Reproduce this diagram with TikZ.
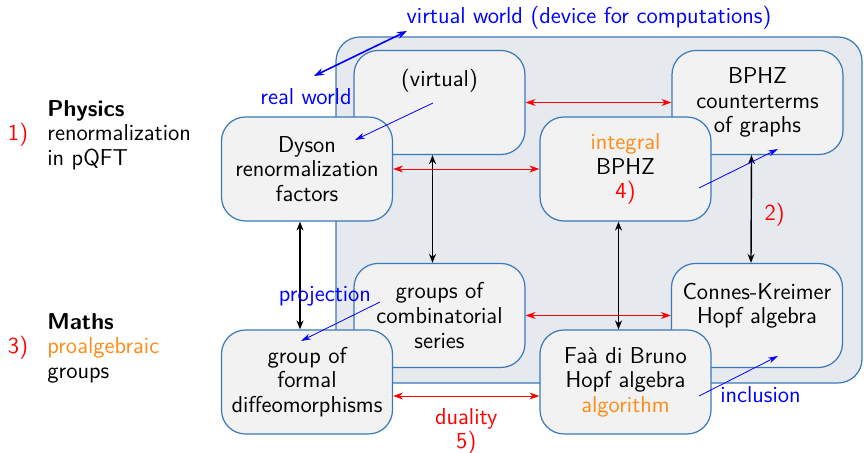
\documentclass[tikz,border=0pt]{standalone}
\usepackage{tikz}
\usepackage{xcolor}
\usetikzlibrary{arrows.meta, calc}
\definecolor{boxblue}{RGB}{58,121,184}
\definecolor{boxgray}{RGB}{242,242,242}
\definecolor{backgray}{RGB}{230,233,237}
\definecolor{beamerorange}{RGB}{255,140,25}

\tikzset{
  box/.style={draw=boxblue, line width=0.6pt, fill=boxgray, rounded corners=12pt,
    minimum width=85.5pt, minimum height=52pt, align=center, inner sep=2pt},
  dual/.style={red, {Stealth[length=5pt,width=3.5pt]}-{Stealth[length=5pt,width=3.5pt]}},
  link/.style={black, line width=0.7pt, {Stealth[length=4.5pt,width=3.5pt]}-{Stealth[length=4.5pt,width=3.5pt]}},
  map/.style={blue, -{Stealth[length=5pt,width=3pt]}},
}

\begin{document}
\begin{tikzpicture}[x=0.5pt, y=-0.5pt, font=\sffamily\fontsize{11.5}{12.3}\selectfont]
  \useasboundingbox (0,0) rectangle (864,453);
  \draw[boxblue, line width=0.6pt, fill=backgray, rounded corners=12pt] (336,37) rectangle (862,383);

  % virtual layer
  \node[box] (virt) at (439.5,102.5) {(virtual)\\ ~\\ ~};
  \node[box] (bphzc) at (757.5,102.5) {BPHZ\\counterterms\\of graphs};
  \node[box] (comb) at (439.5,315.5) {groups of\\combinatorial\\series};
  \node[box] (ck) at (757,315.5) {Connes-Kreimer\\Hopf algebra\\ ~};
  \draw[dual] (virt) -- (bphzc);
  \draw[dual] (comb) -- (ck);
  \draw[link] ([xshift=-3.5pt]virt.south) -- ([xshift=-3.5pt]comb.north);
  \draw[link] ([xshift=-3pt]bphzc.south) -- ([xshift=-3pt]ck.north)
    node[pos=0.55, right=3pt, red] {2)};

  % real layer
  \node[box] (dyson) at (307,169) {Dyson\\renormalization\\factors};
  \node[box] (bphz) at (625.5,169) {\textcolor{beamerorange}{integral}\\BPHZ\\\textcolor{red}{4)}};
  \node[box] (diffeo) at (307,382) {group of\\formal\\diffeomorphisms};
  \node[box] (fdb) at (625.5,382) {Fa\`a di Bruno\\Hopf algebra\\\textcolor{beamerorange}{algorithm}};
  \draw[dual] (dyson) -- (bphz);
  \draw[dual] ([yshift=-7pt]diffeo.east) -- ([yshift=-7pt]fdb.west)
    node[midway, below=2.5pt, align=center, red] {duality\\5)};
  \draw[link] ([xshift=-3.5pt]dyson.south) -- ([xshift=-3.5pt]diffeo.north);
  \draw[link] ([xshift=-3.5pt]bphz.south) -- ([xshift=-3.5pt]fdb.north);

  % blue maps
  \coordinate (realpt) at (314,76);
  \coordinate (virtpt) at (407,31);
  \coordinate (virtin) at (433,103);
  \coordinate (dysonin) at (355,140);
  \coordinate (bphzin) at (699,188);
  \coordinate (bphzcin) at (778,149);
  \coordinate (combin) at (380,302);
  \coordinate (diffeoin) at (301,341);
  \coordinate (fdbin) at (699,396);
  \coordinate (ckin) at (778,356);
  \draw[blue, thick, {Stealth[length=5pt,width=3.5pt]}-{Stealth[length=5pt,width=3.5pt]}] (realpt) -- (virtpt);
  \draw[map] (virtin) -- (dysonin);
  \draw[map] (bphzin) -- (bphzcin);
  \draw[map] (combin) -- (diffeoin);
  \draw[map] (fdbin) -- (ckin);
  \node[blue] (virtworld) at (589,18) {virtual world (device for computations)};
  \node[blue] (realworld) at (306,97) {real world};
  \node[blue] (proj) at (325,296) {projection};
  \node[blue] (incl) at (760.5,395) {inclusion};

  % side texts
  \node[align=left, anchor=west, inner sep=0pt] (phys) at (47,135) {\textbf{Physics}\\renormalization\\in pQFT};
  \node[red] (one) at (18,135) {1)};
  \node[align=left, anchor=west, inner sep=0pt] (maths) at (47,348) {\textbf{Maths}\\\textcolor{beamerorange}{proalgebraic}\\groups};
  \node[red] (three) at (18,348) {3)};
\end{tikzpicture}
\end{document}
